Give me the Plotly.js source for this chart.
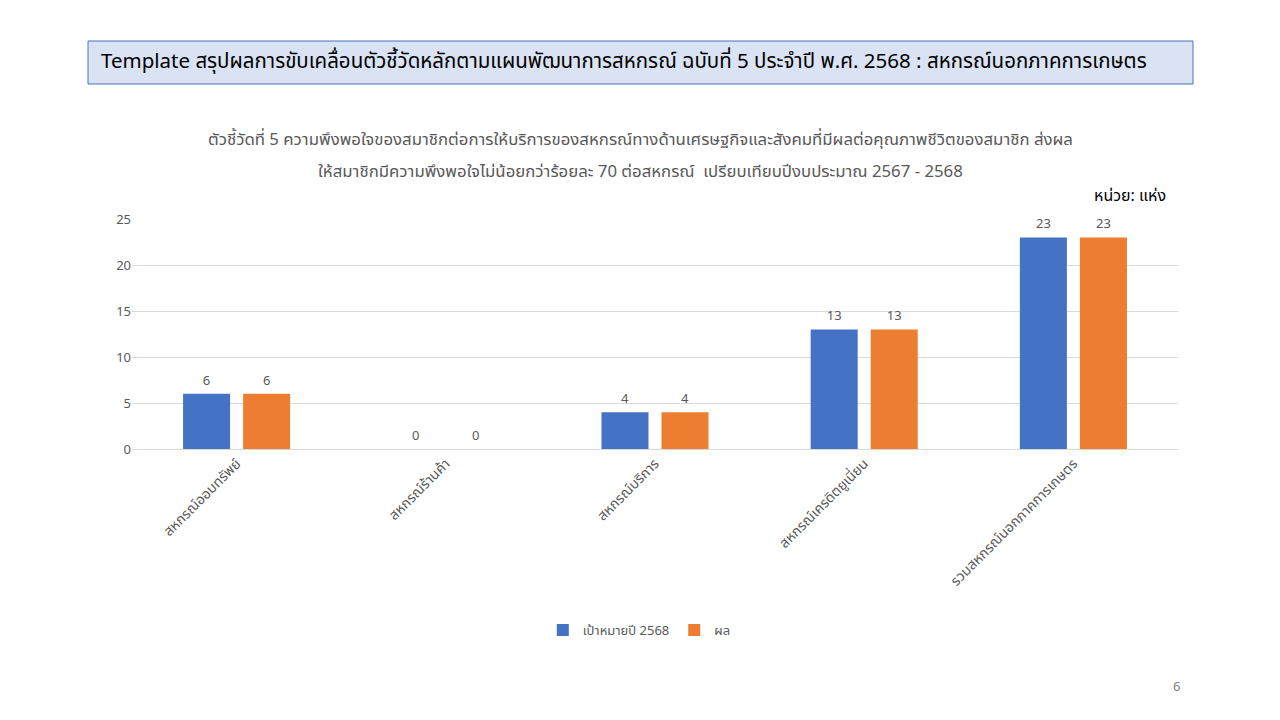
<!DOCTYPE html>
<html>
<head>
<meta charset="utf-8">
<script src="https://cdn.plot.ly/plotly-3.0.1.min.js"></script>
<style>html,body{margin:0;padding:0;background:#fff;}#chart{width:1280px;height:720px;}</style>
</head>
<body>
<div id="chart"></div>
<script>
const categories = ["สหกรณ์ออมทรัพย์", "สหกรณ์ร้านค้า", "สหกรณ์บริการ", "สหกรณ์เครดิตยูเนี่ยน", "รวมสหกรณ์นอกภาคการเกษตร"];
const targetValues = [6, 0, 4, 13, 23];
const resultValues = [6, 0, 4, 13, 23];
const seriesNames = ["เป้าหมายปี 2568", "ผล"];
const yTicks = [0, 5, 10, 15, 20, 25];

const FONT = "Tahoma, 'Noto Sans Thai', 'Noto Sans', sans-serif";
const gray = "#595959";

const traces = [
  {type: "bar", name: seriesNames[0], x: categories, y: targetValues, marker: {color: "#4472c4"},
   text: targetValues.map(String), textposition: "outside", cliponaxis: false,
   textfont: {color: gray, size: 13, family: FONT}, hoverinfo: "x+y"},
  {type: "bar", name: seriesNames[1], x: categories, y: resultValues, marker: {color: "#ed7d31"},
   text: resultValues.map(String), textposition: "outside", cliponaxis: false,
   textfont: {color: gray, size: 13, family: FONT}, hoverinfo: "x+y"}
];

const layout = {
  width: 1280, height: 720,
  margin: {l: 132, r: 102, t: 219, b: 271, pad: 0},
  paper_bgcolor: "#fff", plot_bgcolor: "#fff",
  font: {family: FONT, color: gray, size: 13},
  barmode: "group", bargap: 0.426, bargroupgap: 0.217,
  showlegend: true,
  legend: {orientation: "h", x: 0.485, xanchor: "center", y: -0.787, yanchor: "middle",
           font: {size: 13, color: gray, family: FONT}, itemwidth: 30, itemclick: false},
  xaxis: {type: "category", tickangle: -45, showgrid: false, showline: true, linecolor: "#d9d9d9",
          ticks: "", tickfont: {size: 14, color: gray, family: FONT}, fixedrange: true},
  yaxis: {range: [0, 25], tickvals: yTicks, showgrid: true, gridcolor: "#d9d9d9", zeroline: false,
          showline: false, ticks: "", tickfont: {size: 13, color: gray, family: FONT}, fixedrange: true},
  shapes: [
    {type: "rect", xref: "paper", yref: "paper", x0: -44/1046, x1: 1061/1046, y0: (449-41)/230, y1: (449-84)/230,
     fillcolor: "#dae3f3", line: {color: "#4472c4", width: 1}, layer: "below"}
  ],
  annotations: [
    {xref: "paper", yref: "paper", x: -33/1046, xanchor: "left", y: (449-61)/230, yanchor: "middle",
     text: "Template สรุปผลการขับเคลื่อนตัวชี้วัดหลักตามแผนพัฒนาการสหกรณ์ ฉบับที่ 5 ประจำปี พ.ศ. 2568 : สหกรณ์นอกภาคการเกษตร",
     showarrow: false, font: {size: 20.5, color: "#000000", family: FONT}},
    {xref: "paper", yref: "paper", x: (640-132)/1046, xanchor: "center", y: (449-140)/230, yanchor: "middle",
     text: "ตัวชี้วัดที่ 5 ความพึงพอใจของสมาชิกต่อการให้บริการของสหกรณ์ทางด้านเศรษฐกิจและสังคมที่มีผลต่อคุณภาพชีวิตของสมาชิก ส่งผล",
     showarrow: false, font: {size: 16.8, color: gray, family: FONT}},
    {xref: "paper", yref: "paper", x: (640-132)/1046, xanchor: "center", y: (449-172)/230, yanchor: "middle",
     text: "ให้สมาชิกมีความพึงพอใจไม่น้อยกว่าร้อยละ 70 ต่อสหกรณ์  เปรียบเทียบปีงบประมาณ 2567 - 2568",
     showarrow: false, font: {size: 16.8, color: gray, family: FONT}},
    {xref: "paper", yref: "paper", x: (1168-132)/1046, xanchor: "right", y: (449-196)/230, yanchor: "middle",
     text: "หน่วย: แห่ง", showarrow: false, font: {size: 16, color: "#000000", family: FONT}},
    {xref: "paper", yref: "paper", x: (1182-132)/1046, xanchor: "right", y: (449-687)/230, yanchor: "middle",
     text: "6", showarrow: false, font: {size: 13, color: "#7f7f7f", family: FONT}}
  ]
};

Plotly.newPlot("chart", traces, layout, {displayModeBar: false, staticPlot: true});
</script>
</body>
</html>
